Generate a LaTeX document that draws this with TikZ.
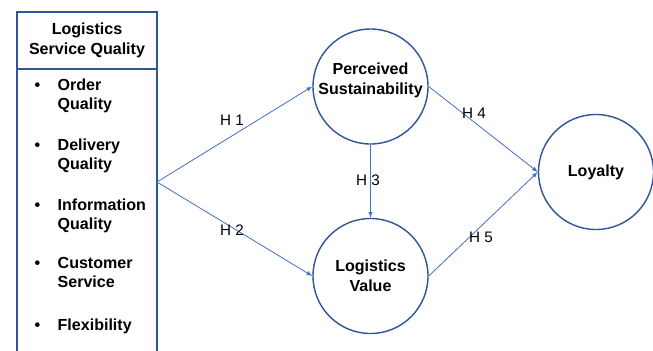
\documentclass[tikz,border=0pt]{standalone}
\usepackage{fontspec}
\setmainfont{Liberation Sans}
\usepackage{tikz}
\usetikzlibrary{shapes,arrows,positioning,calc}
\definecolor{edgeblue}{HTML}{2F5597}
\definecolor{arrowblue}{HTML}{4472C4}

\begin{document}
\begin{tikzpicture}[
    x=0.03cm, y=-0.03cm,
    panel/.style={rectangle, draw=edgeblue, line width=1.1pt, minimum width=4.2cm, inner sep=0pt},
    construct/.style={circle, draw=edgeblue, line width=1.2pt, minimum size=3.45cm, inner sep=0pt, align=center, font=\fontsize{13.7}{17}\selectfont\bfseries},
    item/.style={anchor=base west, inner sep=0pt, font=\fontsize{13.7}{16.6}\selectfont\bfseries},
    hyp/.style={inner sep=0pt, font=\fontsize{13}{15}\selectfont},
    link/.style={->, >=latex, draw=arrowblue, line width=0.7pt}
]
    \useasboundingbox (0,0) rectangle (653,350);

    % left panel
    \node[panel, minimum height=1.71cm, align=center, font=\fontsize{13.7}{17}\selectfont\bfseries] (lsqhead) at (87,40.5) {Logistics\\Service Quality};
    \node[panel, minimum height=8.73cm] (lsqbody) at (87,214.5) {};
    \foreach \y/\txt [count=\i] in {90/{Order\\&Quality}, 150/{Delivery\\&Quality}, 210/{Information\\&Quality}, 268.5/{Customer\\&Service}, 330/{Flexibility}} {
        \node[item] (item\i) at (34.5,\y) {\begin{tabular}[t]{@{}l@{\hspace{0.52cm}}l@{}}\textbullet&\txt\end{tabular}};
    }

    % constructs
    \node[construct] (ps) at (370.5,86.5) {Perceived\\Sustainability\\[-3pt]};
    \node[construct] (lv) at (370.5,276) {Logistics\\Value};
    \node[construct] (loy) at (596,172) {Loyalty};

    \coordinate (lsq) at (157,182);

    % hypotheses
    \draw[link] (lsq) -- (ps.west);
    \draw[link] (lsq) -- (lv.west);
    \draw[link] (ps.south) -- (lv.north);
    \draw[link] (ps.east) -- (loy.west);
    \draw[link] (lv.east) -- (loy.west);

    \node[hyp] (h1) at (232,120) {H 1};
    \node[hyp] (h2) at (232,230) {H 2};
    \node[hyp] (h3) at (368,180) {H 3};
    \node[hyp] (h4) at (474,113) {H 4};
    \node[hyp] (h5) at (481,237) {H 5};
\end{tikzpicture}
\end{document}
